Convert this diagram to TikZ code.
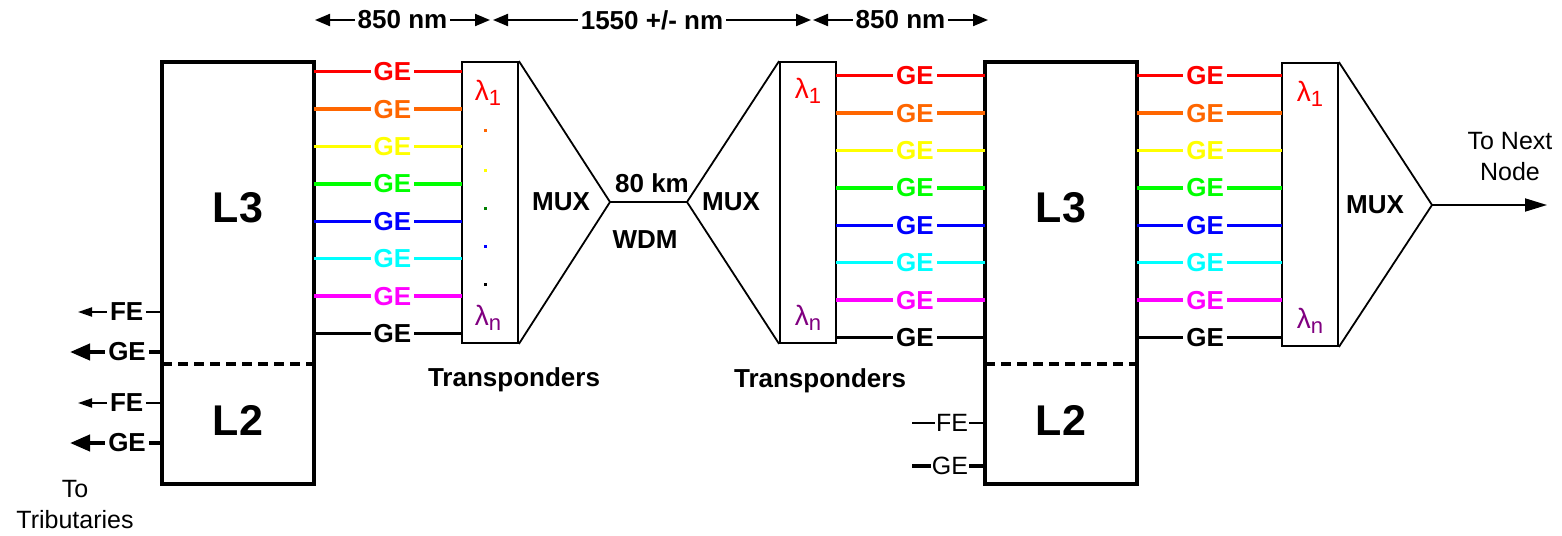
\documentclass[tikz,border=0pt]{standalone}
\usepackage{fontspec}
\setmainfont{Liberation Sans}
\usetikzlibrary{arrows.meta}

\definecolor{gered}{RGB}{255,0,0}
\definecolor{georange}{RGB}{255,102,0}
\definecolor{geyellow}{RGB}{255,255,0}
\definecolor{gegreen}{RGB}{0,255,0}
\definecolor{geblue}{RGB}{0,0,255}
\definecolor{gecyan}{RGB}{0,255,255}
\definecolor{gemagenta}{RGB}{255,0,255}
\definecolor{dotgreen}{RGB}{0,128,0}
\definecolor{lampurple}{RGB}{128,0,128}

\newcommand{\lam}[1]{\fontsize{28}{30}\selectfont λ\raisebox{-0.35ex}{\fontsize{22}{24}\selectfont #1}}

\tikzset{
  rack/.style={draw, line width=3.5pt, minimum width=152pt, minimum height=422pt, inner sep=0pt},
  trbox/.style={draw, line width=1.8pt, minimum width=56pt, minimum height=281pt, inner sep=0pt},
  muxline/.style={line width=1.8pt},
  wire/.style={line width=3.5pt},
  divider/.style={line width=3.5pt, dash pattern=on 10pt off 6pt},
  getag/.style={fill=white, inner xsep=3pt, inner ysep=0pt, font=\bfseries\fontsize{26}{28}\selectfont},
  plaintag/.style={fill=white, inner xsep=1pt, inner ysep=0pt, font=\fontsize{25}{28}\selectfont},
  layer/.style={font=\bfseries\fontsize{43}{46}\selectfont},
  muxtag/.style={font=\bfseries\fontsize{26}{28}\selectfont},
  note/.style={font=\fontsize{25}{31}\selectfont, align=center},
  thinio/.style={line width=2pt, -{Triangle[length=14pt,width=9pt]}},
  thickio/.style={line width=4pt, -{Triangle[length=20pt,width=16pt]}},
  dimline/.style={line width=2pt, {Triangle[length=15pt,width=12pt]}-{Triangle[length=15pt,width=12pt]}},
}

\begin{document}
\begin{tikzpicture}[x=1pt, y=-1pt]
  \useasboundingbox (0,0) rectangle (1562,535);

  % Racks, L3 over L2
  \node[rack] (lrack) at (238,273) {};
  \node[rack] (rrack) at (1061,273) {};
  \draw[divider] (162,364) -- (317,364);
  \draw[divider] (985,364) -- (1140,364);
  \node[layer] (ll3) at (238,208) {L3};
  \node[layer] (ll2) at (238,420) {L2};
  \node[layer] (rl3) at (1061,208) {L3};
  \node[layer] (rl2) at (1061,420) {L2};

  % Transponder boxes
  \node[trbox] (ltr) at (490,202.5) {};
  \node[trbox] (mtr) at (808,202.5) {};
  \node[trbox, minimum height=283pt] (rtr) at (1310,204.5) {};

  % MUX triangles and the WDM span
  \coordinate (lapex) at (610,202);
  \coordinate (mapex) at (687,202);
  \coordinate (rapex) at (1432,205);
  \coordinate (nextnode) at (1547,205);
  \draw[muxline] (ltr.north east) -- (lapex) -- (ltr.south east);
  \draw[muxline] (mtr.north west) -- (mapex) -- (mtr.south west);
  \draw[muxline] (rtr.north east) -- (rapex) -- (rtr.south east);
  \draw[muxline] (lapex) -- (mapex);
  \draw[muxline, -{Triangle[length=22pt,width=13pt]}] (rapex) -- (nextnode);
  \node[muxtag] (lmux) at (561,202) {MUX};
  \node[muxtag] (mmux) at (731,202) {MUX};
  \node[muxtag] (rmux) at (1375,205) {MUX};
  \node[muxtag] (km) at (652,183) {80 km};
  \node[muxtag] (wdm) at (645,240) {WDM};
  \node[muxtag] (ltrtag) at (514,380) {Transponders};
  \node[muxtag] (mtrtag) at (820,381) {Transponders};

  % Coloured GE channels
  \foreach \c [count=\i from 0] in {gered,georange,geyellow,gegreen,geblue,gecyan,gemagenta,black} {
    \pgfmathsetmacro\ya{71.7+37.4*\i}
    \pgfmathsetmacro\yb{75.7+37.4*\i}
    \coordinate (la\i) at (314,\ya);
    \coordinate (lb\i) at (462,\ya);
    \coordinate (ma\i) at (836,\yb);
    \coordinate (mb\i) at (985,\yb);
    \coordinate (ra\i) at (1137,\yb);
    \coordinate (rb\i) at (1282,\yb);
    \draw[wire, \c] (la\i) -- node[getag, text=\c, pos=0.53] (lge\i) {GE} (lb\i);
    \draw[wire, \c] (ma\i) -- node[getag, text=\c, pos=0.53] (mge\i) {GE} (mb\i);
    \draw[wire, \c] (ra\i) -- node[getag, text=\c, pos=0.47] (rge\i) {GE} (rb\i);
  }

  % Wavelengths
  \node[gered] (ll1) at (488,93) {\lam{1}};
  \node[lampurple] (lln) at (488,318) {\lam{n}};
  \node[gered] (ml1) at (808,91) {\lam{1}};
  \node[lampurple] (mln) at (808,318) {\lam{n}};
  \node[gered] (rl1) at (1310,94) {\lam{1}};
  \node[lampurple] (rln) at (1310,321) {\lam{n}};
  \foreach \c/\y in {georange/130, geyellow/170, dotgreen/208, geblue/246, black/284}
    \fill[\c] (483.5,\y-1.5) rectangle ++(3,3);

  % Tributary ports
  \coordinate (lfe1) at (162,312);  \coordinate (lfe1end) at (78,312);
  \coordinate (lge1) at (162,352);  \coordinate (lge1end) at (70,352);
  \coordinate (lfe2) at (162,403);  \coordinate (lfe2end) at (78,403);
  \coordinate (lge2) at (162,443);  \coordinate (lge2end) at (70,443);
  \draw[thinio] (lfe1) -- node[getag, pos=0.42] (lfe1tag) {FE} (lfe1end);
  \draw[thickio] (lge1) -- node[getag, pos=0.38] (lge1tag) {GE} (lge1end);
  \draw[thinio] (lfe2) -- node[getag, pos=0.42] (lfe2tag) {FE} (lfe2end);
  \draw[thickio] (lge2) -- node[getag, pos=0.38] (lge2tag) {GE} (lge2end);
  \node[note] (tribtag) at (75,505) {To\\Tributaries};

  \coordinate (rfe) at (985,423);  \coordinate (rfeend) at (912,423);
  \coordinate (rge) at (985,466);  \coordinate (rgeend) at (912,466);
  \draw[line width=2pt] (rfe) -- node[plaintag, pos=0.45] (rfetag) {FE} (rfeend);
  \draw[line width=4pt] (rge) -- node[plaintag, pos=0.48] (rgetag) {GE} (rgeend);

  \node[note] (nexttag) at (1510,157) {To Next\\Node};

  % Wavelength spans
  \coordinate (d0) at (315,20);  \coordinate (d1) at (490,20);
  \coordinate (d2) at (493,20);  \coordinate (d3) at (811,20);
  \coordinate (d4) at (813,20);  \coordinate (d5) at (988,20);
  \draw[dimline] (d0) -- node[getag] (span1) {850 nm} (d1);
  \draw[dimline] (d2) -- node[getag] (span2) {1550 +/- nm} (d3);
  \draw[dimline] (d4) -- node[getag] (span3) {850 nm} (d5);
\end{tikzpicture}
\end{document}
